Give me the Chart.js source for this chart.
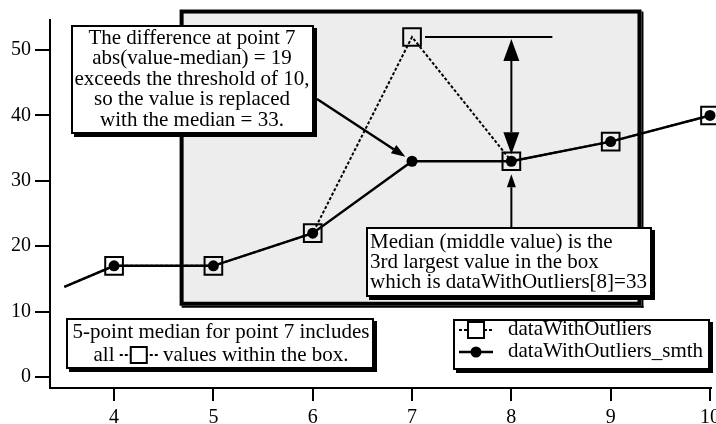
<!DOCTYPE html>
<html>
<head>
<meta charset="utf-8">
<script src="https://cdn.jsdelivr.net/npm/chart.js@4"></script>
<style>
html, body { margin: 0; padding: 0; background: #fff; }
canvas { display: block; }
</style>
</head>
<body>
<canvas id="chart" width="716" height="424"></canvas>
<script>
// data
const xValues = [3.5, 4, 5, 6, 7, 8, 9, 10];
const dataWithOutliers = [13.8, 17, 17, 22, 52, 33, 36, 40];
const dataWithOutliersSmth = [13.8, 17, 17, 22, 33, 33, 36, 40];
const seriesLabels = ['dataWithOutliers', 'dataWithOutliers_smth'];
const xTicks = [4, 5, 6, 7, 8, 9, 10];
const yTicks = [0, 10, 20, 30, 40, 50];

const noteTop = ['The difference at point 7', 'abs(value-median) = 19', 'exceeds the threshold of 10,', 'so the value is replaced', 'with the median = 33.'];
const noteMedian = ['Median (middle value) is the', '3rd largest value in the box', 'which is dataWithOutliers[8]=33'];
const noteBoxLine1 = '5-point median for point 7 includes';
const noteBoxPre = 'all ';
const noteBoxPost = ' values within the box.';

const FONT = '21px "Liberation Serif", "Times New Roman", serif';

function pts(ys){ return xValues.map((x, i) => ({x: x, y: ys[i]})); }

// annotation frame with Igor-like shadow
function frame(ctx, x, y, w, h, fill, lw, sh){
  ctx.save();
  ctx.fillStyle = fill;
  ctx.fillRect(x, y, w, h);
  ctx.lineWidth = lw;
  ctx.strokeStyle = '#000';
  ctx.strokeRect(x + lw/2, y + lw/2, w - lw, h - lw);
  ctx.fillStyle = '#000';
  ctx.fillRect(x + w, y + sh, sh, h);
  ctx.fillRect(x + sh, y + h, w, sh);
  ctx.restore();
}

function head(ctx, x0, y0, x1, y1, len, half){
  const a = Math.atan2(y1 - y0, x1 - x0);
  const bx = x1 - len*Math.cos(a), by = y1 - len*Math.sin(a);
  ctx.beginPath();
  ctx.moveTo(x1, y1);
  ctx.lineTo(bx + half*Math.sin(a), by - half*Math.cos(a));
  ctx.lineTo(bx - half*Math.sin(a), by + half*Math.cos(a));
  ctx.closePath();
  ctx.fill();
  return {x: bx, y: by};
}

function arrow(ctx, x0, y0, x1, y1, len, half, both){
  const b1 = head(ctx, x0, y0, x1, y1, len, half);
  let s = {x: x0, y: y0};
  if(both) s = head(ctx, x1, y1, x0, y0, len, half);
  ctx.beginPath();
  ctx.moveTo(s.x, s.y);
  ctx.lineTo(b1.x, b1.y);
  ctx.stroke();
}

function lines(ctx, arr, x, y0, step){
  arr.forEach((t, i) => ctx.fillText(t, x, y0 + i*step));
}

function symbol(ctx, ds, x0, x1, y){
  const cx = (x0 + x1)/2;
  ctx.save();
  ctx.strokeStyle = '#000';
  ctx.fillStyle = '#000';
  ctx.lineWidth = ds.borderWidth;
  ctx.setLineDash(ds.borderDash || []);
  ctx.beginPath(); ctx.moveTo(x0, y); ctx.lineTo(x1, y); ctx.stroke();
  ctx.setLineDash([]);
  if(ds.pointStyle === 'rect'){
    ctx.lineWidth = 2;
    ctx.fillStyle = '#fff';
    ctx.fillRect(cx - 8, y - 8, 16, 16);
    ctx.strokeRect(cx - 8, y - 8, 16, 16);
  } else {
    ctx.beginPath(); ctx.arc(cx, y, 5.5, 0, Math.PI*2); ctx.fill();
  }
  ctx.restore();
}

const boxPlugin = {
  id: 'boxPlugin',
  beforeDatasetsDraw(chart){
    const ctx = chart.ctx, xs = chart.scales.x, ys = chart.scales.y;
    const l = xs.getPixelForValue(4.66), r = xs.getPixelForValue(9.31);
    const t = ys.getPixelForValue(56.2), b = ys.getPixelForValue(10.9);
    frame(ctx, l, t, r - l, b - t, '#ededed', 4, 2);
  },
  afterDatasetsDraw(chart){
    const ctx = chart.ctx, xs = chart.scales.x, ys = chart.scales.y;
    const dsRaw = chart.data.datasets[0], dsSmth = chart.data.datasets[1];
    const x7 = xs.getPixelForValue(7), x8 = xs.getPixelForValue(8);
    const y7s = ys.getPixelForValue(dataWithOutliersSmth[4]);
    const y7 = ys.getPixelForValue(dataWithOutliers[4]);
    const y8 = ys.getPixelForValue(dataWithOutliers[5]);
    ctx.save();
    ctx.strokeStyle = '#000';
    ctx.fillStyle = '#000';
    ctx.lineWidth = 2.5;

    // top left note and its arrow
    frame(ctx, 71, 25, 243, 109, '#fff', 2, 3);
    ctx.font = FONT;
    ctx.fillStyle = '#000';
    ctx.textAlign = 'center';
    ctx.textBaseline = 'middle';
    lines(ctx, noteTop, 192, 38, 20.6);
    const a = Math.atan2(y7s - 99, x7 - 317);
    arrow(ctx, 317, 99, x7 - 8*Math.cos(a), y7s - 8*Math.sin(a), 14, 5, false);

    // difference arrow
    ctx.lineWidth = 2;
    ctx.beginPath(); ctx.moveTo(x7 + 13, y7); ctx.lineTo(x8 + 41, y7); ctx.stroke();
    arrow(ctx, x8, y7 + 2, x8, y8 - 7, 22, 8, true);

    // median note with arrow up to point 8
    frame(ctx, 366, 227, 286, 70, '#fff', 2, 3);
    ctx.fillStyle = '#000';
    ctx.textAlign = 'left';
    lines(ctx, noteMedian, 370, 242, 20);
    arrow(ctx, x8, 227, x8, y8 + 13, 13, 4.5, false);

    // bottom left note with inline symbol
    frame(ctx, 66, 318, 308, 51, '#fff', 2, 3);
    ctx.fillStyle = '#000';
    ctx.textAlign = 'center';
    ctx.fillText(noteBoxLine1, 221, 332);
    const w1 = ctx.measureText(noteBoxPre).width, w2 = ctx.measureText(noteBoxPost).width, sw = 38;
    let sx = 221 - (w1 + sw + w2)/2;
    ctx.textAlign = 'left';
    ctx.fillText(noteBoxPre, sx, 355);
    symbol(ctx, dsRaw, sx + w1, sx + w1 + sw, 355);
    ctx.fillStyle = '#000';
    ctx.fillText(noteBoxPost, sx + w1 + sw, 355);

    // legend
    frame(ctx, 453, 319, 257, 51, '#fff', 2, 3);
    symbol(ctx, dsRaw, 459, 493, 330);
    symbol(ctx, dsSmth, 459, 493, 352);
    ctx.fillStyle = '#000';
    ctx.textAlign = 'left';
    ctx.fillText(seriesLabels[0], 508, 329);
    ctx.fillText(seriesLabels[1], 508, 351);
    ctx.restore();
  }
};

const tickFont = {family: '"Liberation Serif", "Times New Roman", serif', size: 20};

new Chart(document.getElementById('chart'), {
  type: 'line',
  data: {
    datasets: [
      {
        label: seriesLabels[0],
        data: pts(dataWithOutliers),
        borderColor: '#000',
        borderWidth: 2,
        borderDash: [3, 2],
        pointStyle: 'rect',
        pointRadius: c => c.dataIndex === 0 ? 0 : 12.5,
        pointBorderWidth: 2,
        pointBorderColor: '#000',
        pointBackgroundColor: 'rgba(0,0,0,0)',
        tension: 0,
        clip: false,
        order: 1
      },
      {
        label: seriesLabels[1],
        data: pts(dataWithOutliersSmth),
        borderColor: '#000',
        borderWidth: 2.5,
        pointStyle: 'circle',
        pointRadius: c => c.dataIndex === 0 ? 0 : 5.5,
        pointBorderWidth: 0,
        pointBackgroundColor: '#000',
        tension: 0,
        clip: false,
        order: 0
      }
    ]
  },
  options: {
    responsive: false,
    animation: false,
    devicePixelRatio: 1,
    layout: {autoPadding: false, padding: {top: 20, right: 5, left: 0, bottom: 0}},
    plugins: {legend: {display: false}, tooltip: {enabled: false}},
    scales: {
      x: {
        type: 'linear',
        min: 3.355,
        max: 10.01,
        afterBuildTicks: s => { s.ticks = xTicks.map(v => ({value: v})); },
        afterFit: s => { s.height = 36; s.paddingLeft = 0; s.paddingRight = 0; },
        grid: {drawOnChartArea: false, tickLength: 13, color: '#000', lineWidth: 2},
        border: {color: '#000', width: 2},
        ticks: {font: tickFont, color: '#000', padding: 5, maxRotation: 0, autoSkip: false}
      },
      y: {
        min: -1.68,
        max: 54.6,
        afterBuildTicks: s => { s.ticks = yTicks.map(v => ({value: v})); },
        afterFit: s => { s.width = 50; s.paddingTop = 0; s.paddingBottom = 0; },
        grid: {drawOnChartArea: false, tickLength: 15, color: '#000', lineWidth: 2},
        border: {color: '#000', width: 2},
        ticks: {font: tickFont, color: '#000', padding: 4}
      }
    }
  },
  plugins: [boxPlugin]
});
</script>
</body>
</html>
